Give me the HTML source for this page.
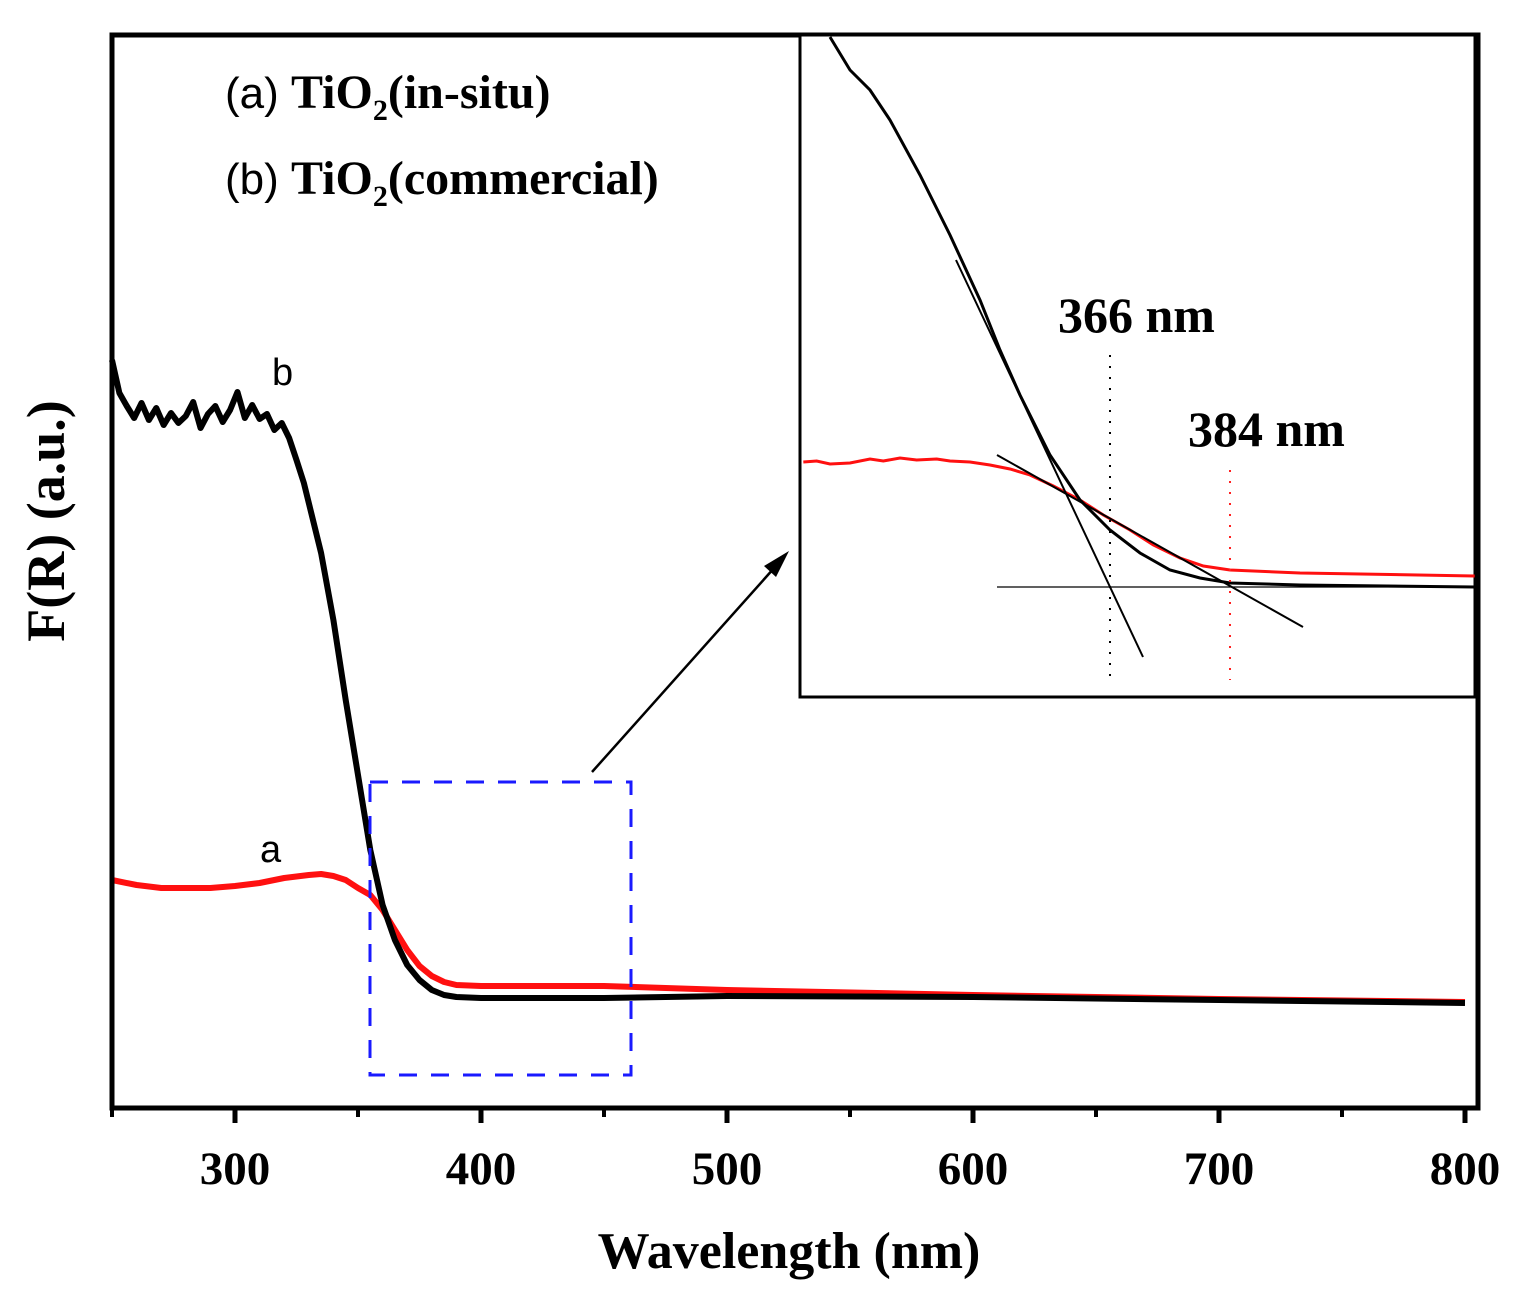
<!DOCTYPE html>
<html><head><meta charset="utf-8"><style>
html,body{margin:0;padding:0;background:#fff;}
svg{display:block;}
.serif{font-family:"Liberation Serif",serif;font-weight:bold;}
.sans{font-family:"Liberation Sans",sans-serif;}
</style></head><body>
<svg id="chart" width="1522" height="1296" viewBox="0 0 1522 1296" xmlns="http://www.w3.org/2000/svg">
<g id="main"></g>
<g id="inset"></g>
</svg>
<script>
// main plot data (wavelength nm, F(R) arbitrary units)
const waveB = [250,253,256,259,262,265,268,271,274,277,280,283,286,289,292,295,298,301,304,307,310,313,316,319,322,325,328,331,335,340,345,350,355,360,365,370,375,380,385,390,400,450,500,600,700,800];
const valB  = [74.8,71.5,70.2,69.0,70.5,68.8,70.0,68.3,69.5,68.5,69.2,70.6,68.0,69.4,70.2,68.6,69.8,71.6,69.0,70.3,68.9,69.4,67.8,68.5,67.0,64.8,62.5,59.5,55.5,48.8,40.8,33.3,25.8,20.3,16.8,14.3,12.8,11.8,11.3,11.1,11.0,11.0,11.2,11.1,10.8,10.5];
const waveA = [250,260,270,280,290,300,310,320,330,335,340,345,350,355,360,365,370,375,380,385,390,400,450,500,600,700,800];
const valA  = [22.8,22.3,22.0,22.0,22.0,22.2,22.5,23.0,23.3,23.4,23.2,22.8,22.0,21.3,19.8,17.8,15.8,14.2,13.2,12.6,12.3,12.2,12.2,11.8,11.3,10.9,10.6];
const xTicks = [300,400,500,600,700,800];
const xMinor = [250,350,450,550,650,750];
// inset data (wavelength nm, relative units)
const insetWaveB = [324,327,330,333,337.5,342,346.5,349.5,352.5,357,361.5,366,370.5,375,379.5,384,394.5,420.7];
const insetValB  = [110,103.4,99.4,93.4,82.4,70.4,57.4,47.4,38.4,26.4,17.4,11.4,6.8,3.4,1.8,0.8,0.4,0];
const insetWaveA = [320,322,324,327,330,332,334.5,337,340,342,345,348,351,354,357.5,361.5,365,369,372.5,376.5,380,384,394.5,420.7];
const insetValA  = [25.0,25.2,24.6,24.8,25.6,25.2,25.8,25.4,25.6,25.2,25.0,24.4,23.6,22.4,20.2,17.4,14.4,11.4,8.4,5.8,4.2,3.4,2.8,2.2];
const markers = [366,384];

const NS="http://www.w3.org/2000/svg";
function mk(parent,tag,attrs,text){const e=document.createElementNS(NS,tag);for(const k in attrs)e.setAttribute(k,attrs[k]);if(text!==undefined)e.textContent=text;parent.appendChild(e);return e;}
const main=document.getElementById('main');
const inset=document.getElementById('inset');
const X=l=>481+(l-400)*2.46;
const Y=v=>1108-v*10;
const IX=l=>1110+(l-366)*6.667;
const IY=v=>587-v*5;

let e;
e=mk(main,'polyline',{points:waveA.map((l,i)=>X(l)+','+Y(valA[i])).join(' '),fill:'none',stroke:'#ff1010','stroke-width':6,'stroke-linejoin':'round'});


e=mk(main,'polyline',{points:waveB.map((l,i)=>X(l)+','+Y(valB[i])).join(' '),fill:'none',stroke:'#000','stroke-width':6,'stroke-linejoin':'round'});



e=mk(main,'rect',{x:112,y:35,width:1366,height:1073,fill:'none',stroke:'#000','stroke-width':5});


xTicks.forEach(t=>{
  let tk=mk(main,'line',{x1:X(t),x2:X(t),y1:1108,y2:1123,stroke:'#000','stroke-width':5});
  
  
  let lb=mk(main,'text',{x:X(t),y:1184,'text-anchor':'middle','font-size':47,class:'serif'},t);
  
  
});
xMinor.forEach(t=>{
  let tk=mk(main,'line',{x1:X(t),x2:X(t),y1:1108,y2:1117,stroke:'#000','stroke-width':4});
  
  
});
e=mk(main,'text',{x:789,y:1268,'text-anchor':'middle','font-size':52,class:'serif'},'Wavelength (nm)');


e=mk(main,'text',{x:0,y:0,'text-anchor':'middle','font-size':54,class:'serif',transform:'translate(64,521) rotate(-90)'},'F(R) (a.u.)');



function legend(y,lab,name,dn){
  const t=mk(main,'text',{x:225,y:y,'font-size':44});
  
  
  mk(t,'tspan',{class:'sans'},lab+' ');
  mk(t,'tspan',{class:'serif','font-size':48},'TiO');
  mk(t,'tspan',{class:'serif','font-size':30,dy:12},'2');
  mk(t,'tspan',{class:'serif','font-size':48,dy:-12},name);
}
legend(108,'(a)','(in-situ)','legend-entry-a');
legend(194,'(b)','(commercial)','legend-entry-b');
e=mk(main,'text',{x:272,y:385,'font-size':38,class:'sans'},'b');


e=mk(main,'text',{x:260,y:862,'font-size':38,class:'sans'},'a');



e=mk(main,'rect',{x:370,y:782,width:261,height:293,fill:'none',stroke:'#1a1aff','stroke-width':3,'stroke-dasharray':'18 14'});


e=mk(main,'line',{x1:592,y1:772,x2:775,y2:567,stroke:'#000','stroke-width':2.5});


e=mk(main,'polygon',{points:'789,551 764,566 776,577',fill:'#000'});



e=mk(inset,'rect',{x:800,y:35,width:676,height:662,fill:'#fff',stroke:'#000','stroke-width':3});


e=mk(inset,'line',{x1:1476,y1:35,x2:1476,y2:697,stroke:'#000','stroke-width':5});


const cp=mk(inset,'clipPath',{id:'ic'});mk(cp,'rect',{x:800,y:35,width:676,height:662});
const g=mk(inset,'g',{'clip-path':'url(#ic)'});
e=mk(g,'polyline',{points:insetWaveA.map((l,i)=>IX(l)+','+IY(insetValA[i])).join(' '),fill:'none',stroke:'#ff1010','stroke-width':3});


e=mk(g,'polyline',{points:insetWaveB.map((l,i)=>IX(l)+','+IY(insetValB[i])).join(' '),fill:'none',stroke:'#000','stroke-width':3});


e=mk(g,'line',{x1:997,y1:587,x2:1476,y2:587,stroke:'#000','stroke-width':1.2});


e=mk(g,'line',{x1:997,y1:455,x2:1303,y2:627,stroke:'#000','stroke-width':2});


e=mk(g,'line',{x1:956,y1:260,x2:1143,y2:657,stroke:'#000','stroke-width':2});


const mcol=['#000','#ff2020'], mtop=[355,470], ltx=[1058,1188], lty=[332,446];
markers.forEach((m,i)=>{
  let l=mk(inset,'line',{x1:IX(m),x2:IX(m),y1:mtop[i],y2:680,stroke:mcol[i],'stroke-width':2,'stroke-dasharray':'2 9'});
  
  
  let t=mk(inset,'text',{x:ltx[i],y:lty[i],'font-size':50,class:'serif'},m+' nm');
  
  
});
</script>
</body></html>
